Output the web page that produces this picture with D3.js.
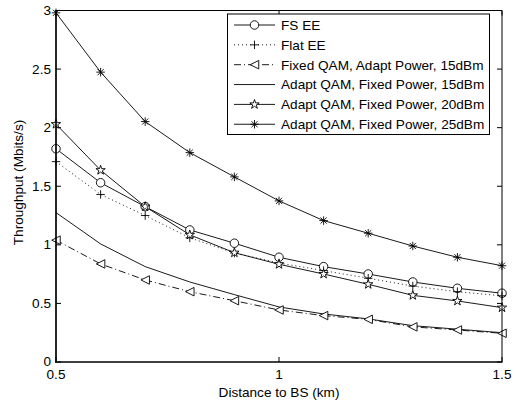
<!DOCTYPE html>
<html>
<head>
<meta charset="utf-8">
<script src="https://cdn.jsdelivr.net/npm/d3@7"></script>
<style>
  html, body { margin: 0; padding: 0; background: #fff; }
  svg text { font-family: "Liberation Sans", Arial, Helvetica, sans-serif; fill: #000; }
</style>
</head>
<body>
<svg id="chart" width="524" height="404"></svg>
<script>
// Distance to base station (km)
const distances = [0.5, 0.6, 0.7, 0.8, 0.9, 1.0, 1.1, 1.2, 1.3, 1.4, 1.5];

// Throughput (Mbits/s) for each scheme
const fsEE        = [1.82, 1.53, 1.326, 1.127, 1.014, 0.894, 0.814, 0.751, 0.683, 0.629, 0.587];
const flatEE      = [1.71, 1.43, 1.25, 1.06, 0.93, 0.845, 0.78, 0.715, 0.648, 0.60, 0.565];
const fixedQam15  = [1.04, 0.837, 0.70, 0.60, 0.523, 0.444, 0.396, 0.364, 0.30, 0.273, 0.245];
const adaptQam15  = [1.275, 1.008, 0.814, 0.683, 0.575, 0.47, 0.41, 0.368, 0.31, 0.28, 0.25];
const adaptQam20  = [2.03, 1.637, 1.326, 1.085, 0.933, 0.834, 0.751, 0.663, 0.569, 0.521, 0.464];
const adaptQam25  = [2.98, 2.474, 2.052, 1.787, 1.58, 1.375, 1.207, 1.099, 0.99, 0.894, 0.822];

const seriesNames = [
  "FS EE",
  "Flat EE",
  "Fixed QAM, Adapt Power, 15dBm",
  "Adapt QAM, Fixed Power, 15dBm",
  "Adapt QAM, Fixed Power, 20dBm",
  "Adapt QAM, Fixed Power, 25dBm"
];

const xTicks = [0.5, 1, 1.5];
const yTicks = [0, 0.5, 1, 1.5, 2, 2.5, 3];

const svg = d3.select("#chart");
const margin = { left: 56, right: 22, top: 10.5, bottom: 42 };
const W = 524, H = 404;

const x = d3.scaleLinear().domain([0.5, 1.5]).range([margin.left, W - margin.right]);
const y = d3.scaleLinear().domain([0, 3]).range([H - margin.bottom, margin.top]);

const FS = 13.6;

// line styles and marker types per series
const styles = [
  { values: fsEE,       dash: null,      marker: "circle" },
  { values: flatEE,     dash: "1,3",     marker: "plus" },
  { values: fixedQam15, dash: "7,3,1,3", marker: "triangle" },
  { values: adaptQam15, dash: null,      marker: "none" },
  { values: adaptQam20, dash: null,      marker: "star" },
  { values: adaptQam25, dash: null,      marker: "asterisk" }
];

function markerPath(type, s) {
  const r = s / 2;
  if (type === "circle") {
    return d3.symbol(d3.symbolCircle, Math.PI * r * r)();
  }
  if (type === "plus") {
    return `M${-r},0H${r}M0,${-r}V${r}`;
  }
  if (type === "triangle") {
    // left-pointing triangle
    return `M${-r},0L${r},${-r}L${r},${r}Z`;
  }
  if (type === "star") {
    return d3.symbol(d3.symbolStar, s * s * 0.32)();
  }
  if (type === "asterisk") {
    const d = r * 0.72;
    return `M${-r},0H${r}M0,${-r}V${r}M${-d},${-d}L${d},${d}M${-d},${d}L${d},${-d}`;
  }
  return "";
}

const markerSize = m => (m === "star" ? 9.2 : 8.5);
const markerFill = m => (m === "circle" || m === "triangle" || m === "star" ? "#fff" : "none");

const g = svg.append("g");

// plot frame background
g.append("rect")
  .attr("x", x(0.5)).attr("y", y(3))
  .attr("width", x(1.5) - x(0.5)).attr("height", y(0) - y(3))
  .attr("fill", "#fff");

// inward ticks on all four sides
const tickLen = 5;
const ticks = g.append("g").attr("stroke", "#000").attr("stroke-width", 1);
xTicks.forEach(t => {
  ticks.append("line").attr("x1", x(t)).attr("x2", x(t)).attr("y1", y(0)).attr("y2", y(0) - tickLen);
  ticks.append("line").attr("x1", x(t)).attr("x2", x(t)).attr("y1", y(3)).attr("y2", y(3) + tickLen);
});
yTicks.forEach(t => {
  ticks.append("line").attr("x1", x(0.5)).attr("x2", x(0.5) + tickLen).attr("y1", y(t)).attr("y2", y(t));
  ticks.append("line").attr("x1", x(1.5)).attr("x2", x(1.5) - tickLen).attr("y1", y(t)).attr("y2", y(t));
});

// data lines
const line = d3.line().x((d, i) => x(distances[i])).y(d => y(d));
styles.forEach(s => {
  g.append("path")
    .datum(s.values)
    .attr("d", line)
    .attr("fill", "none")
    .attr("stroke", "#000")
    .attr("stroke-width", 0.9)
    .attr("stroke-dasharray", s.dash);
});

// markers
styles.forEach(s => {
  if (s.marker === "none") return;
  g.append("g").selectAll("path")
    .data(s.values)
    .join("path")
    .attr("transform", (d, i) => `translate(${x(distances[i])},${y(d)})`)
    .attr("d", markerPath(s.marker, markerSize(s.marker)))
    .attr("fill", markerFill(s.marker))
    .attr("stroke", "#000")
    .attr("stroke-width", 0.9);
});

// axes frame
const frame = g.append("g").attr("stroke", "#000").attr("fill", "none");
frame.append("line").attr("x1", x(0.5)).attr("x2", x(1.5)).attr("y1", y(3)).attr("y2", y(3)).attr("stroke-width", 1);
frame.append("line").attr("x1", x(1.5)).attr("x2", x(1.5)).attr("y1", y(3)).attr("y2", y(0)).attr("stroke-width", 1);
frame.append("line").attr("x1", x(0.5)).attr("x2", x(0.5)).attr("y1", y(3) - 0.5).attr("y2", y(0) + 0.8).attr("stroke-width", 1.7);
frame.append("line").attr("x1", x(0.5) - 0.8).attr("x2", x(1.5) + 0.5).attr("y1", y(0)).attr("y2", y(0)).attr("stroke-width", 1.7);

// tick labels
const fmt = d => String(d);
g.append("g").selectAll("text")
  .data(xTicks).join("text")
  .attr("x", d => x(d)).attr("y", y(0) + 16.8)
  .attr("text-anchor", "middle")
  .attr("font-size", FS)
  .text(fmt);
g.append("g").selectAll("text")
  .data(yTicks).join("text")
  .attr("x", x(0.5) - 5).attr("y", d => y(d))
  .attr("dy", "0.33em")
  .attr("text-anchor", "end")
  .attr("font-size", FS)
  .text(fmt);

// axis titles
svg.append("text")
  .attr("x", (x(0.5) + x(1.5)) / 2).attr("y", 397)
  .attr("text-anchor", "middle")
  .attr("font-size", FS)
  .text("Distance to BS (km)");
svg.append("text")
  .attr("transform", "translate(22.8,182.5) rotate(-90)")
  .attr("text-anchor", "middle")
  .attr("font-size", FS)
  .text("Throughput (Mbits/s)");

// legend
const leg = svg.append("g");
const lx0 = 227.5, ly0 = 14, lw = 262, lh = 120.5;
leg.append("rect")
  .attr("x", lx0).attr("y", ly0).attr("width", lw).attr("height", lh)
  .attr("fill", "#fff").attr("stroke", "#000").attr("stroke-width", 1);
const rowY = i => 25 + i * 19.85;
styles.forEach((s, i) => {
  const yy = rowY(i);
  leg.append("line")
    .attr("x1", 234).attr("x2", 275).attr("y1", yy).attr("y2", yy)
    .attr("stroke", "#000").attr("stroke-width", 0.9)
    .attr("stroke-dasharray", s.dash);
  if (s.marker !== "none") {
    leg.append("path")
      .attr("transform", `translate(254.5,${yy})`)
      .attr("d", markerPath(s.marker, markerSize(s.marker)))
      .attr("fill", markerFill(s.marker))
      .attr("stroke", "#000").attr("stroke-width", 0.9);
  }
  leg.append("text")
    .attr("x", 281).attr("y", yy)
    .attr("dy", "0.36em")
    .attr("font-size", FS)
    .text(seriesNames[i]);
});
</script>
</body>
</html>
